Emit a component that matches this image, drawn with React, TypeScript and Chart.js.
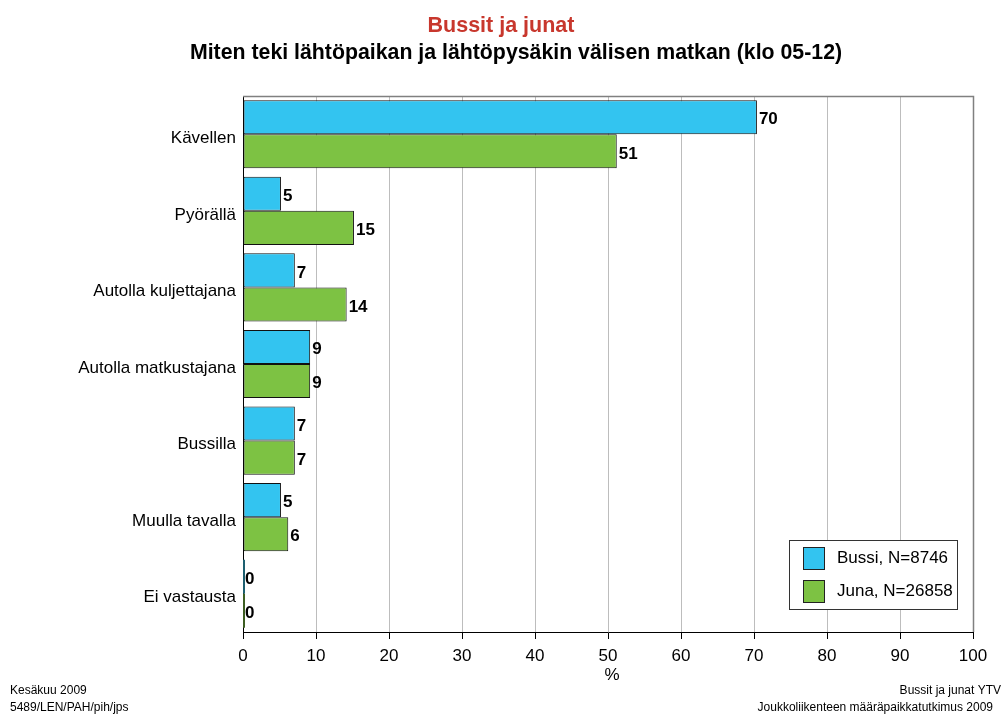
import React, { useEffect, useRef } from "react";
import { Chart, registerables } from "chart.js";

Chart.register(...registerables);

const categories = [
  "Kävellen",
  "Pyörällä",
  "Autolla kuljettajana",
  "Autolla matkustajana",
  "Bussilla",
  "Muulla tavalla",
  "Ei vastausta",
];
const bussiValues = [70.4, 5.2, 7.1, 9.2, 7.1, 5.2, 0];
const junaValues = [51.2, 15.2, 14.2, 9.2, 7.1, 6.2, 0];
const bussiLabels = ["70", "5", "7", "9", "7", "5", "0"];
const junaLabels = ["51", "15", "14", "9", "7", "6", "0"];
const seriesNames = ["Bussi, N=8746", "Juna, N=26858"];
const seriesColors = ["#33c4f0", "#7dc243"];
const zeroBorderColors = ["#1d5f70", "#3d5e22"];

const titleText = "Bussit ja junat";
const subtitleText = "Miten teki lähtöpaikan ja lähtöpysäkin välisen matkan (klo 05-12)";
const axisTitle = "%";
const footerLeft = ["Kesäkuu 2009", "5489/LEN/PAH/pih/jps"];
const footerRight = ["Bussit ja junat YTV", "Joukkoliikenteen määräpaikkatutkimus 2009"];

const FONT = "'Liberation Sans', Arial, sans-serif";

const decorPlugin = {
  id: "decor",
  afterDatasetsDraw(chart: any) {
    const ctx = chart.ctx;
    const area = chart.chartArea;
    ctx.save();
    // frame top/right
    ctx.strokeStyle = "#808080";
    ctx.lineWidth = 1.5;
    ctx.beginPath();
    ctx.moveTo(area.left, area.top + 0.5);
    ctx.lineTo(area.right + 0.5, area.top + 0.5);
    ctx.lineTo(area.right + 0.5, area.bottom);
    ctx.stroke();

    // zero-value bars show as a thin outline on the axis
    chart.data.datasets.forEach((ds: any, di: number) => {
      const meta = chart.getDatasetMeta(di);
      meta.data.forEach((bar: any, i: number) => {
        if (ds.data[i] === 0) {
          ctx.strokeStyle = zeroBorderColors[di];
          ctx.lineWidth = 2;
          ctx.beginPath();
          ctx.moveTo(bar.x + 1, bar.y - bar.height / 2);
          ctx.lineTo(bar.x + 1, bar.y + bar.height / 2);
          ctx.stroke();
        }
      });
    });

    // data labels
    ctx.fillStyle = "#000";
    ctx.font = `bold 17px ${FONT}`;
    ctx.textAlign = "left";
    ctx.textBaseline = "middle";
    const labelSets = [bussiLabels, junaLabels];
    chart.data.datasets.forEach((ds: any, di: number) => {
      const meta = chart.getDatasetMeta(di);
      meta.data.forEach((bar: any, i: number) => {
        ctx.fillText(labelSets[di][i], bar.x + 2, bar.y + 2.5);
      });
    });
    ctx.restore();
  },
  afterDraw(chart: any) {
    const ctx = chart.ctx;
    const area = chart.chartArea;
    ctx.save();
    // legend
    const lx = 789, ly = 540, lw = 168, lh = 69;
    ctx.fillStyle = "#fff";
    ctx.fillRect(lx, ly, lw, lh);
    ctx.strokeStyle = "#333";
    ctx.lineWidth = 1;
    ctx.strokeRect(lx + 0.5, ly + 0.5, lw, lh);
    seriesNames.forEach((name, i) => {
      const sy = 547 + i * 33;
      ctx.fillStyle = seriesColors[i];
      ctx.fillRect(803, sy, 21, 22);
      ctx.strokeStyle = "#222";
      ctx.strokeRect(803.5, sy + 0.5, 21, 22);
      ctx.fillStyle = "#000";
      ctx.font = `17px ${FONT}`;
      ctx.textAlign = "left";
      ctx.textBaseline = "middle";
      ctx.fillText(name, 837, sy + 11);
    });

    // titles
    ctx.textAlign = "center";
    ctx.textBaseline = "middle";
    ctx.fillStyle = "#c8372d";
    ctx.font = `bold 21.5px ${FONT}`;
    ctx.fillText(titleText, 501, 26);
    ctx.fillStyle = "#000";
    ctx.font = `bold 21.3px ${FONT}`;
    ctx.fillText(subtitleText, 516, 53);

    // axis title
    ctx.font = `17px ${FONT}`;
    ctx.fillText(axisTitle, (area.left + area.right) / 2 + 4, 675);

    // footers
    ctx.font = `12px ${FONT}`;
    ctx.textAlign = "left";
    ctx.fillText(footerLeft[0], 10, 691);
    ctx.fillText(footerLeft[1], 10, 708);
    ctx.textAlign = "right";
    ctx.fillText(footerRight[0], 1001, 691);
    ctx.fillText(footerRight[1], 993, 708);
    ctx.restore();
  },
};

export default function App() {
  const canvasRef = useRef<HTMLCanvasElement | null>(null);

  useEffect(() => {
    if (!canvasRef.current) return;
    const chart = new Chart(canvasRef.current, {
      type: "bar",
      data: {
        labels: categories,
        datasets: [
          {
            label: seriesNames[0],
            data: bussiValues,
            backgroundColor: seriesColors[0],
            borderColor: "#111",
            borderWidth: 1,
            borderSkipped: false,
            categoryPercentage: 0.89,
            barPercentage: 1,
          },
          {
            label: seriesNames[1],
            data: junaValues,
            backgroundColor: seriesColors[1],
            borderColor: "#111",
            borderWidth: 1,
            borderSkipped: false,
            categoryPercentage: 0.89,
            barPercentage: 1,
          },
        ],
      },
      options: {
        indexAxis: "y",
        responsive: false,
        animation: false,
        layout: { padding: { top: 96, right: 30, left: 0, bottom: 0 } },
        plugins: {
          legend: { display: false },
          title: { display: false },
          tooltip: { enabled: false },
        },
        scales: {
          x: {
            min: 0,
            max: 100,
            ticks: {
              stepSize: 10,
              color: "#000",
              font: { family: FONT, size: 17 },
              padding: 7,
              maxRotation: 0,
            },
            grid: {
              color: "#bdbdbd",
              tickColor: "#000",
              tickLength: 7,
              lineWidth: 1,
            },
            border: { color: "#000", width: 1 },
            afterFit: (scale: any) => {
              scale.height = 86;
            },
          },
          y: {
            ticks: {
              color: "#000",
              font: { family: FONT, size: 17 },
              padding: 7,
              labelOffset: 4,
            },
            grid: { display: false, drawTicks: false, tickLength: 0 },
            border: { color: "#000", width: 1 },
            afterFit: (scale: any) => {
              scale.width = 243;
            },
          },
        },
      },
      plugins: [decorPlugin],
    } as any);
    return () => chart.destroy();
  }, []);

  return (
    <div style={{ position: "absolute", left: 0, top: 0, width: 1003, height: 718, background: "#fff" }}>
      <canvas ref={canvasRef} width={1003} height={718} style={{ display: "block" }} />
    </div>
  );
}
